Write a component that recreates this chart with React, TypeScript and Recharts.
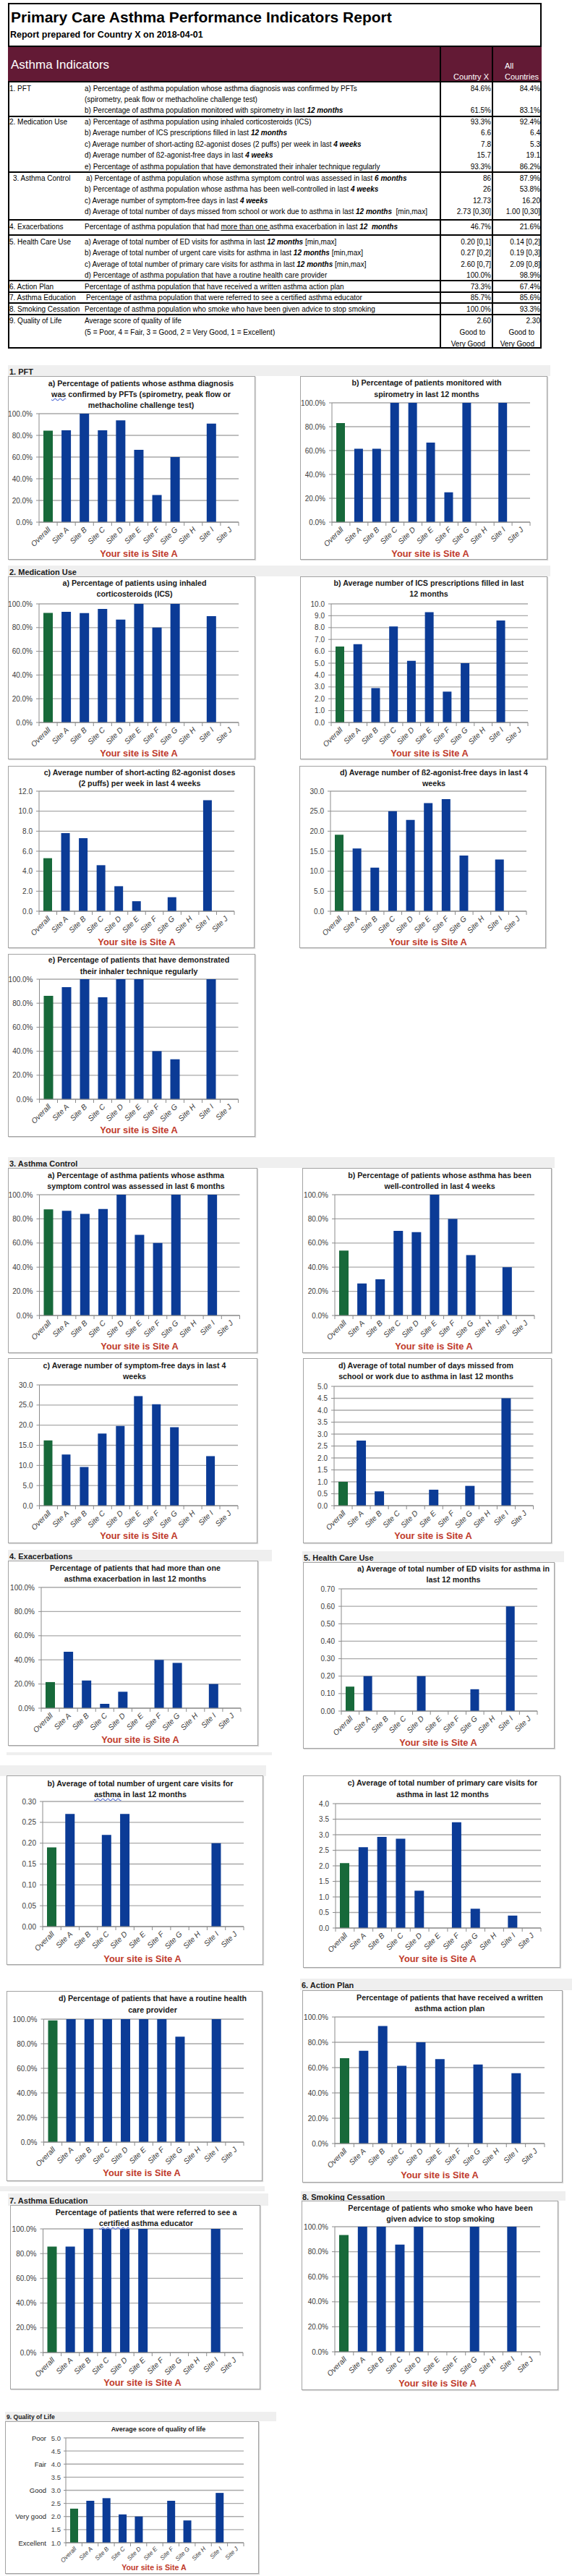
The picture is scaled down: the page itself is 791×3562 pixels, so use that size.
import React from 'react';
import { BarChart, Bar, XAxis, YAxis, CartesianGrid, Cell } from 'recharts';

const FONT = "'Liberation Sans', Arial, sans-serif";
const GREEN = '#17693a';
const BLUE = '#0b3b96';
const RED = '#bf3a2b';
const GRID = '#a9a9a9';
const AXIS = '#8c8c8c';
const MAROON = '#631a35';

// ---------- data ----------
const CATEGORIES = ['Overall', 'Site A', 'Site B', 'Site C', 'Site D', 'Site E', 'Site F', 'Site G', 'Site H', 'Site I', 'Site J'];

const PFT_A = [84.4, 84.6, 100, 84.6, 93.8, 66.7, 25, 60, null, 90.9, null];
const PFT_B = [83.1, 61.5, 61.5, 100, 100, 66.7, 25, 100, null, 100, null];
const MED_A = [92.4, 93.3, 92.3, 95.7, 86.7, 100, 80, 100, null, 89.7, null];
const MED_B = [6.4, 6.6, 2.9, 8.1, 5.2, 9.3, 2.6, 5.0, null, 8.6, null];
const MED_C = [5.3, 7.8, 7.3, 4.6, 2.5, 1.0, null, 1.4, null, 11.1, null];
const MED_D = [19.1, 15.7, 10.9, 25.0, 22.8, 27.0, 28.0, 13.9, null, 12.9, null];
const MED_E = [86.2, 93.3, 100, 85.0, 100, 100, 40, 33.3, null, 100, null];
const AC_A = [87.9, 86.7, 84.2, 88.2, 100, 66.7, 60, 100, null, 100, null];
const AC_B = [53.8, 26.5, 30, 70, 69, 100, 80, 50, null, 40, null];
const AC_C = [16.2, 12.73, 9.6, 17.9, 19.8, 27.2, 25.2, 19.5, null, 12.3, null];
const AC_D = [1.0, 2.73, 0.6, null, null, 0.67, null, 0.83, null, 4.5, null];
const EXAC = [21.6, 46.7, 22.9, 3.6, 13.6, null, 40, 37.5, null, 20, null];
const HCU_A = [0.14, 0.2, null, null, 0.2, null, null, 0.125, null, 0.6, null];
const HCU_B = [0.19, 0.27, null, 0.22, 0.27, null, null, null, null, 0.2, null];
const HCU_C = [2.09, 2.6, 2.93, 2.87, 1.2, null, 3.4, 0.62, null, 0.4, null];
const HCU_D = [98.9, 100, 100, 100, 100, 100, 100, 85.7, null, 100, null];
const ACTION = [67.4, 73.3, 92.9, 61.5, 80, 66.7, null, 62.5, null, 55.6, null];
const EDU = [85.6, 85.7, 100, 100, 100, 100, null, null, null, 100, null];
const SMOKE = [93.3, 100, 100, 85.7, 100, null, null, 100, null, 100, null];
const QOL = [2.3, 2.6, 2.7, 2.08, 2.0, null, 2.6, 1.85, null, 2.9, null];

const PCT_TICKS = [0, 20, 40, 60, 80, 100];
const TICKS_10 = [0, 1, 2, 3, 4, 5, 6, 7, 8, 9, 10];
const TICKS_12 = [0, 2, 4, 6, 8, 10, 12];
const TICKS_30 = [0, 5, 10, 15, 20, 25, 30];
const TICKS_5 = [0, 0.5, 1, 1.5, 2, 2.5, 3, 3.5, 4, 4.5, 5];
const TICKS_07 = [0, 0.1, 0.2, 0.3, 0.4, 0.5, 0.6, 0.7];
const TICKS_03 = [0, 0.05, 0.1, 0.15, 0.2, 0.25, 0.3];
const TICKS_4 = [0, 0.5, 1, 1.5, 2, 2.5, 3, 3.5, 4];
const QOL_TICKS = [1, 1.5, 2, 2.5, 3, 3.5, 4, 4.5, 5];
const QOL_LABELS = ['Excellent', '', 'Very good', '', 'Good', '', 'Fair', '', 'Poor'];
const SITE_NOTE = 'Your site is Site A';

// ---------- table text ----------
type Line = { y: number; label?: string; lx?: number; desc: string; dx?: number; cx?: string; all?: string; inset?: number };
const TABLE_LINES: Line[] = [
  { y: 122, label: '1. PFT', desc: 'a) Percentage of asthma population whose asthma diagnosis was confirmed by PFTs', cx: '84.6%', all: '84.4%' },
  { y: 137, desc: '(spirometry, peak flow or methacholine challenge test)' },
  { y: 152, desc: 'b) Percentage of asthma population monitored with spirometry in last **12 months**', cx: '61.5%', all: '83.1%' },
  { y: 168, label: '2. Medication Use', desc: 'a) Percentage of asthma population using inhaled corticosteroids (ICS)', cx: '93.3%', all: '92.4%' },
  { y: 183, desc: 'b) Average number of ICS prescriptions filled in last **12 months**', cx: '6.6', all: '6.4' },
  { y: 199, desc: 'c) Average number of short-acting ß2-agonist doses (2 puffs) per week in last **4 weeks**', cx: '7.8', all: '5.3' },
  { y: 214, desc: 'd) Average number of ß2-agonist-free days in last **4 weeks**', cx: '15.7', all: '19.1' },
  { y: 230, desc: 'e) Percentage of asthma population that have demonstrated their inhaler technique regularly', cx: '93.3%', all: '86.2%' },
  { y: 246, label: '3. Asthma Control', lx: 18, dx: 2, desc: 'a) Percentage of asthma population whose asthma symptom control was assessed in last **6 months**', cx: '86', all: '87.9%' },
  { y: 261, desc: 'b) Percentage of asthma population whose asthma has been well-controlled in last **4 weeks**', cx: '26', all: '53.8%' },
  { y: 277, desc: 'c) Average number of symptom-free days in last **4 weeks**', cx: '12.73', all: '16.20' },
  { y: 292, desc: 'd) Average of total number of days missed from school or work due to asthma in last **12 months**\u00a0\u00a0[min,max]', cx: '2.73 [0,30]', all: '1.00 [0,30]' },
  { y: 313, label: '4. Exacerbations', desc: 'Percentage of asthma population that had __more than one __asthma exacerbation in last **12\u00a0\u00a0months**', cx: '46.7%', all: '21.6%' },
  { y: 334, label: '5. Health Care Use', desc: 'a) Average of total number of ED visits for asthma in last **12 months** [min,max]', cx: '0.20 [0,1]', all: '0.14 [0,2]' },
  { y: 349, desc: 'b) Average of total number of urgent care visits for asthma in last **12 months** [min,max]', cx: '0.27 [0,2]', all: '0.19 [0,3]' },
  { y: 365, desc: 'c) Average of total number of primary care visits for asthma in last **12 months** [min,max]', cx: '2.60 [0,7]', all: '2.09 [0,8]' },
  { y: 380, desc: 'd) Percentage of asthma population that have a routine health care provider', cx: '100.0%', all: '98.9%' },
  { y: 396, label: '6. Action Plan', desc: 'Percentage of asthma population that have received a written asthma action plan', cx: '73.3%', all: '67.4%' },
  { y: 411, label: '7. Asthma Education', dx: 2, desc: 'Percentage of asthma population that were referred to see a certified asthma educator', cx: '85.7%', all: '85.6%' },
  { y: 427, label: '8. Smoking Cessation', desc: 'Percentage of asthma population who smoke who have been given advice to stop smoking', cx: '100.0%', all: '93.3%' },
  { y: 443, label: '9. Quality of Life', desc: 'Average score of quality of life', cx: '2.60', all: '2.30' },
  { y: 459, desc: '(5 = Poor, 4 = Fair, 3 = Good, 2 = Very Good, 1 = Excellent)', cx: 'Good to', all: 'Good to', inset: 8 },
  { y: 475, desc: '', cx: 'Very Good', all: 'Very Good', inset: 8 },
];
const ROW_RULES = [161, 238, 304, 325, 388, 404, 419, 435];

// ---------- chart configs ----------
type Cfg = {
  values: (number | null)[];
  box: [number, number, number, number];
  plot: [number, number, number, number];
  domain: [number, number];
  ticks: number[];
  dec: number;
  pct?: boolean;
  title: string[];
  titleY: number[];
  titleX: number;
  site: [number, number];
  qol?: boolean;
};

const CHARTS: Cfg[] = [
  { values: PFT_A, box: [11, 520, 353, 774], plot: [54, 330, 572, 722], domain: [0, 100], ticks: PCT_TICKS, dec: 1, pct: true,
    title: ['a) Percentage of patients whose asthma diagnosis', '~was~ confirmed by PFTs (spirometry, peak flow or', 'methacholine challenge test)'], titleY: [530, 545, 560], titleX: 195, site: [192, 765] },
  { values: PFT_B, box: [415, 520, 757, 774], plot: [459, 733, 557, 722], domain: [0, 100], ticks: PCT_TICKS, dec: 1, pct: true,
    title: ['b) Percentage of patients monitored with', 'spirometry in last 12 months'], titleY: [529, 545], titleX: 590, site: [595, 765] },
  { values: MED_A, box: [11, 797, 353, 1050], plot: [54, 330, 835, 999], domain: [0, 100], ticks: PCT_TICKS, dec: 1, pct: true,
    title: ['a) Percentage of patients using inhaled', 'corticosteroids (ICS)'], titleY: [806, 821], titleX: 186, site: [192, 1041] },
  { values: MED_B, box: [415, 797, 757, 1050], plot: [458, 730, 835, 999], domain: [0, 10], ticks: TICKS_10, dec: 1,
    title: ['b) Average number of ICS prescriptions filled in last', '12 months'], titleY: [806, 821], titleX: 593, site: [594, 1041] },
  { values: MED_C, box: [11, 1059, 352, 1311], plot: [54, 324, 1094, 1260], domain: [0, 12], ticks: TICKS_12, dec: 1,
    title: ['c) Average number of short-acting ß2-agonist doses', '(2 puffs) per week in last 4 weeks'], titleY: [1068, 1083], titleX: 193, site: [189, 1302] },
  { values: MED_D, box: [414, 1059, 755, 1311], plot: [457, 728, 1094, 1260], domain: [0, 30], ticks: TICKS_30, dec: 1,
    title: ['d) Average number of ß2-agonist-free days in last 4', 'weeks'], titleY: [1068, 1083], titleX: 600, site: [592, 1302] },
  { values: MED_E, box: [11, 1319, 353, 1572], plot: [54.5, 329.5, 1354, 1520], domain: [0, 100], ticks: PCT_TICKS, dec: 1, pct: true,
    title: ['e) Percentage of patients that have demonstrated', 'their inhaler technique regularly'], titleY: [1327, 1343], titleX: 192, site: [192, 1562] },
  { values: AC_A, box: [11, 1615, 356, 1871], plot: [54.5, 331.5, 1652, 1819], domain: [0, 100], ticks: PCT_TICKS, dec: 1, pct: true,
    title: ['a) Percentage of asthma patients whose asthma', 'symptom control was assessed in last 6 months'], titleY: [1625, 1640], titleX: 188, site: [193, 1861] },
  { values: AC_B, box: [418, 1615, 763, 1871], plot: [463, 739, 1652, 1819], domain: [0, 100], ticks: PCT_TICKS, dec: 1, pct: true,
    title: ['b) Percentage of patients whose asthma has been', 'well-controlled in last 4 weeks'], titleY: [1625, 1640], titleX: 608, site: [600, 1861] },
  { values: AC_C, box: [11, 1878, 356, 2134], plot: [54.5, 329, 1915, 2082], domain: [0, 30], ticks: TICKS_30, dec: 1,
    title: ['c) Average number of symptom-free days in last 4', 'weeks'], titleY: [1888, 1903], titleX: 186, site: [192, 2123] },
  { values: AC_D, box: [419, 1878, 763, 2134], plot: [462, 737.5, 1917, 2082], domain: [0, 5], ticks: TICKS_5, dec: 1,
    title: ['d) Average of total number of days missed from', 'school or work due to asthma in last 12 months'], titleY: [1888, 1903], titleX: 589, site: [599, 2123] },
  { values: EXAC, box: [11, 2158, 357, 2414], plot: [57, 333, 2195, 2362], domain: [0, 100], ticks: PCT_TICKS, dec: 1, pct: true,
    title: ['Percentage of patients that had more than one', 'asthma exacerbation in last 12 months'], titleY: [2168, 2183], titleX: 187, site: [194, 2405] },
  { values: HCU_A, box: [419, 2160, 767, 2418], plot: [472, 743, 2197, 2366], domain: [0, 0.7], ticks: TICKS_07, dec: 2,
    title: ['a) Average of total number of ED visits for asthma in', 'last 12 months'], titleY: [2169, 2184], titleX: 627, site: [606, 2409] },
  { values: HCU_B, box: [9, 2455, 364, 2717], plot: [59, 337, 2491, 2664], domain: [0, 0.3], ticks: TICKS_03, dec: 2,
    title: ['b) Average of total number of urgent care visits for', '~asthma~ in last 12 months'], titleY: [2466, 2481], titleX: 194, site: [197, 2708] },
  { values: HCU_C, box: [419, 2455, 775, 2721], plot: [464, 748, 2494, 2666], domain: [0, 4], ticks: TICKS_4, dec: 1,
    title: ['c) Average of total number of primary care visits for', 'asthma in last 12 months'], titleY: [2465, 2481], titleX: 612, site: [605, 2708] },
  { values: HCU_D, box: [9, 2753, 363, 3016], plot: [60.5, 337, 2792, 2962], domain: [0, 100], ticks: PCT_TICKS, dec: 1, pct: true,
    title: ['d) Percentage of patients that have a routine health', 'care provider'], titleY: [2763, 2779], titleX: 211, site: [196, 3004] },
  { values: ACTION, box: [418, 2752, 778, 3018], plot: [463, 753, 2789, 2964], domain: [0, 100], ticks: PCT_TICKS, dec: 1, pct: true,
    title: ['Percentage of patients that have received a written', 'asthma action plan'], titleY: [2762, 2777], titleX: 622, site: [608, 3007] },
  { values: EDU, box: [14, 3049, 360, 3304], plot: [59.5, 336, 3082, 3253], domain: [0, 100], ticks: PCT_TICKS, dec: 1, pct: true,
    title: ['Percentage of patients that were referred to see a', '~certified~ asthma educator'], titleY: [3059, 3074], titleX: 202, site: [197, 3294] },
  { values: SMOKE, box: [417, 3043, 772, 3305], plot: [463, 747, 3079, 3252], domain: [0, 100], ticks: PCT_TICKS, dec: 1, pct: true,
    title: ['Percentage of patients who smoke who have been', 'given advice to stop smoking'], titleY: [3053, 3068], titleX: 609, site: [605, 3295] },
  { values: QOL, box: [7, 3348, 358, 3559], plot: [91, 337, 3371, 3516], domain: [1, 5], ticks: QOL_TICKS, dec: 1, qol: true,
    title: ['Average score of quality of life'], titleY: [3359], titleX: 219, site: [213, 3550] },
];

const SECTIONS: { x1: number; x2: number; y1: number; y2: number; label: string; small?: boolean }[] = [
  { x1: 11, x2: 761, y1: 505, y2: 520, label: '1. PFT' },
  { x1: 11, x2: 761, y1: 782, y2: 797, label: '2. Medication Use' },
  { x1: 11, x2: 767, y1: 1600, y2: 1615, label: '3. Asthma Control' },
  { x1: 11, x2: 376, y1: 2143, y2: 2159, label: '4. Exacerbations' },
  { x1: 418, x2: 780, y1: 2145, y2: 2160, label: '5. Health Care Use' },
  { x1: 9, x2: 376, y1: 2423, y2: 2427, label: '' },
  { x1: 0, x2: 368, y1: 2441, y2: 2456, label: '' },
  { x1: 415, x2: 791, y1: 2736, y2: 2752, label: '6. Action Plan' },
  { x1: 0, x2: 366, y1: 3023, y2: 3030, label: '' },
  { x1: 11, x2: 371, y1: 3033, y2: 3050, label: '7. Asthma Education' },
  { x1: 416, x2: 782, y1: 3030, y2: 3043, label: '8. Smoking Cessation' },
  { x1: 7, x2: 382, y1: 3335, y2: 3348, label: '9. Quality of Life', small: true },
];

// ---------- helpers ----------
type Seg = { t: string; bi?: boolean; u?: boolean; w?: boolean };
function parse(s: string): Seg[] {
  const out: Seg[] = [];
  const re = /(\*\*[^*]+\*\*|__[^_]+__|~[^~]+~)/g;
  let last = 0;
  let m: RegExpExecArray | null;
  while ((m = re.exec(s))) {
    if (m.index > last) out.push({ t: s.slice(last, m.index) });
    const tok = m[0];
    if (tok.startsWith('**')) out.push({ t: tok.slice(2, -2), bi: true });
    else if (tok.startsWith('__')) out.push({ t: tok.slice(2, -2), u: true });
    else out.push({ t: tok.slice(1, -1), w: true });
    last = m.index + tok.length;
  }
  if (last < s.length) out.push({ t: s.slice(last) });
  return out;
}

const Rich = ({ s }: { s: string }) => (
  <>
    {parse(s).map((g, i) => (
      <span
        key={i}
        style={{
          fontWeight: g.bi ? 700 : undefined,
          fontStyle: g.bi ? 'italic' : undefined,
          textDecoration: g.u ? 'underline' : g.w ? 'underline wavy #4f6bd6' : undefined,
          whiteSpace: 'pre',
        }}
      >
        {g.t}
      </span>
    ))}
  </>
);

type TProps = { x: number; y: number; s: string; size: number; bold?: boolean; color?: string; align?: 'left' | 'right' | 'center' };
const T = ({ x, y, s, size, bold, color, align = 'left' }: TProps) => {
  const h = Math.round(size * 1.3);
  const base: React.CSSProperties = {
    position: 'absolute',
    top: y - h / 2,
    height: h,
    lineHeight: h + 'px',
    fontSize: size,
    fontWeight: bold ? 700 : 400,
    color: color || '#000',
    whiteSpace: 'nowrap',
  };
  if (align === 'left') return <div style={{ ...base, left: x }}><Rich s={s} /></div>;
  if (align === 'right') return <div style={{ ...base, left: x - 400, width: 400, textAlign: 'right' }}><Rich s={s} /></div>;
  return <div style={{ ...base, left: x - 300, width: 600, textAlign: 'center' }}><Rich s={s} /></div>;
};

const CatTick = (props: any) => {
  const { x, y, payload, index, band, small } = props;
  const fs = small ? 8.5 : 10.5;
  const half = band / 2;
  return (
    <g>
      <line x1={x - half} x2={x - half} y1={y} y2={y + 5} stroke={AXIS} strokeWidth={1} />
      {index === CATEGORIES.length - 1 && <line x1={x + half} x2={x + half} y1={y} y2={y + 5} stroke={AXIS} strokeWidth={1} />}
      <text
        x={0}
        y={0}
        transform={`translate(${x + 4},${y + (small ? 9 : 11)}) rotate(-45)`}
        textAnchor="end"
        fontSize={fs}
        fontStyle="italic"
        fill="#404040"
        fontFamily={FONT}
      >
        {payload.value}
      </text>
    </g>
  );
};

const ValTick = (props: any) => {
  const { x, y, payload, dec, pct, qol } = props;
  const v = payload.value as number;
  const s = v.toFixed(dec) + (pct ? '%' : '');
  const qi = QOL_TICKS.indexOf(v);
  const word = qol && qi >= 0 ? QOL_LABELS[qi] : '';
  const fs = qol ? 9.5 : 10;
  return (
    <g>
      <text x={x} y={y} dy={3.5} textAnchor="end" fontSize={fs} fill="#404040" fontFamily={FONT}>{s}</text>
      {word && <text x={x - 20} y={y} dy={3.5} textAnchor="end" fontSize={fs} fill="#262626" fontFamily={FONT}>{word}</text>}
    </g>
  );
};

const SiteChart = ({ c }: { c: Cfg }) => {
  const [bx1, by1, bx2, by2] = c.box;
  const [pl, pr, pt, pb] = c.plot;
  const W = bx2 - bx1;
  const H = by2 - by1;
  const XH = 20;
  const data = CATEGORIES.map((name, i) => ({ name, v: c.values[i] }));
  const band = (pr - pl) / CATEGORIES.length;
  return (
    <>
      <div style={{ position: 'absolute', left: bx1, top: by1, width: W, height: H, border: '1px solid #a3a3a3', boxSizing: 'border-box', background: '#fff', boxShadow: '1px 1px 1px #d8d8d8' }} />
      <div style={{ position: 'absolute', left: bx1, top: by1 }}>
        <BarChart width={W} height={H} data={data} margin={{ top: pt - by1, right: bx2 - pr, left: 0, bottom: by2 - pb - XH }}>
          <CartesianGrid vertical={false} stroke={GRID} strokeWidth={1.3} />
          <XAxis dataKey="name" interval={0} height={XH} tickSize={0} tickMargin={0} tickLine={false} axisLine={{ stroke: AXIS }} tick={<CatTick band={band} small={c.qol} />} />
          <YAxis
            type="number"
            domain={c.domain}
            ticks={c.ticks}
            interval={0}
            width={pl - bx1}
            tickSize={c.qol ? 3 : 4}
            tickMargin={c.qol ? 4 : 5}
            axisLine={{ stroke: AXIS }}
            tickLine={{ stroke: AXIS }}
            allowDataOverflow
            tick={<ValTick dec={c.dec} pct={c.pct} qol={c.qol} />}
          />
          <Bar dataKey="v" barSize={Math.round(band * 0.5)} isAnimationActive={false}>
            {data.map((d, i) => (
              <Cell key={i} fill={i === 0 ? GREEN : BLUE} />
            ))}
          </Bar>
        </BarChart>
      </div>
      {c.title.map((t, i) => (
        <T key={i} x={c.titleX} y={c.titleY[i]} s={t} size={c.qol ? 9 : 10.7} bold color="#1a1a1a" align="center" />
      ))}
      <T x={c.site[0]} y={c.site[1]} s={SITE_NOTE} size={c.qol ? 10.7 : 12.8} bold color={RED} align="center" />
    </>
  );
};

const Table = () => (
  <>
    <div style={{ position: 'absolute', left: 11, top: 4, width: 738, height: 478, border: '2px solid #000', boxSizing: 'border-box', background: '#fff' }} />
    <div style={{ position: 'absolute', left: 11, top: 63, width: 738, height: 51, background: MAROON, borderTop: '2px solid #000', borderBottom: '2px solid #000', boxSizing: 'border-box' }} />
    <div style={{ position: 'absolute', left: 608, top: 64, width: 2, height: 418, background: '#000' }} />
    <div style={{ position: 'absolute', left: 680, top: 64, width: 2, height: 418, background: '#000' }} />
    {ROW_RULES.map((y) => (
      <div key={y} style={{ position: 'absolute', left: 11, top: y - 1, width: 738, height: 2, background: '#000' }} />
    ))}
    <T x={15} y={23} s="Primary Care Asthma Performance Indicators Report" size={21} bold />
    <T x={14} y={48} s="Report prepared for Country X on 2018-04-01" size={12.5} bold />
    <T x={15} y={90} s="Asthma Indicators" size={17} color="#fff" />
    <T x={676} y={106} s="Country X" size={11} color="#fff" align="right" />
    <T x={698} y={91} s="All" size={11} color="#fff" />
    <T x={698} y={106} s="Countries" size={11} color="#fff" />
    {TABLE_LINES.map((l, i) => (
      <React.Fragment key={i}>
        {l.label && <T x={l.lx ?? 13} y={l.y} s={l.label} size={10} />}
        {l.desc && <T x={117 + (l.dx ?? 0)} y={l.y} s={l.desc} size={10} />}
        {l.cx && <T x={679 - (l.inset ?? 0)} y={l.y} s={l.cx} size={10} align="right" />}
        {l.all && <T x={747 - (l.inset ?? 0)} y={l.y} s={l.all} size={10} align="right" />}
      </React.Fragment>
    ))}
  </>
);

export default function App() {
  return (
    <div style={{ position: 'absolute', left: 0, top: 0, width: 791, height: 3562, background: '#fff', fontFamily: FONT, overflow: 'hidden' }}>
      <Table />
      {SECTIONS.map((s, i) => (
        <React.Fragment key={i}>
          <div style={{ position: 'absolute', left: s.x1, top: s.y1, width: s.x2 - s.x1, height: s.y2 - s.y1, background: '#efefef' }} />
          {s.label && <T x={s.x1 + 2} y={(s.y1 + s.y2) / 2 + 1} s={s.label} size={s.small ? 8.6 : 11} bold color="#1a1a1a" />}
        </React.Fragment>
      ))}
      {CHARTS.map((c, i) => (
        <SiteChart key={i} c={c} />
      ))}
    </div>
  );
}
